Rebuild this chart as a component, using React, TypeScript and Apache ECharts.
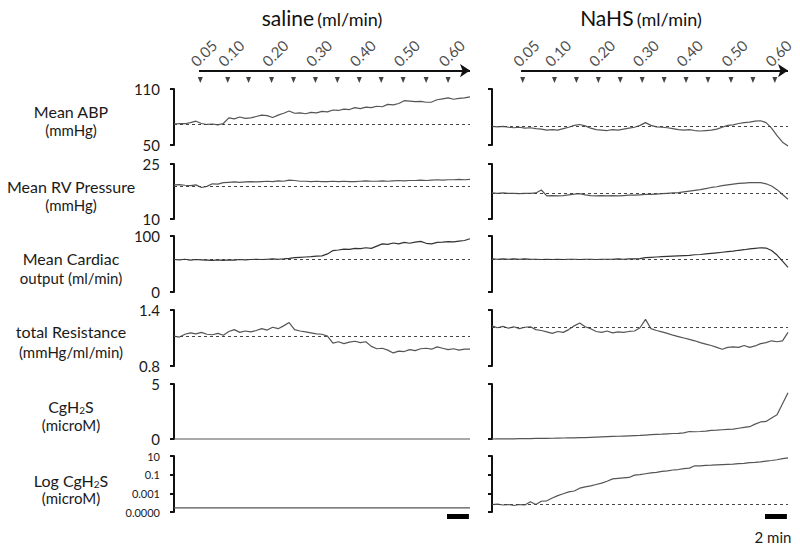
import React, { useEffect, useRef } from "react";
import * as echarts from "echarts";

const FONT = "Lato, 'Noto Sans', sans-serif";

// ---- time base (minutes) ----
const STEP_MIN = 0.5;
const SPAN_MIN = 27;

// ---- titles & dose markers ----
const PANEL_TITLES = ["saline", "NaHS"];
const TITLE_UNIT = "(ml/min)";
const DOSES = ["0.05", "0.10", "0.15", "0.20", "0.25", "0.30", "0.35", "0.40", "0.45", "0.50", "0.55", "0.60"];
const LABELED_DOSES = ["0.05", "0.10", "0.20", "0.30", "0.40", "0.50", "0.60"];
const SALINE_DOSE_TIMES = [2.4, 4.9, 6.8, 8.9, 10.9, 12.9, 14.9, 16.9, 18.9, 20.9, 23.0, 25.0];
const NAHS_DOSE_TIMES = [2.8, 5.7, 7.7, 9.7, 11.7, 13.7, 15.7, 17.7, 19.7, 21.8, 23.8, 25.8];
const ARROW_START_MIN = [2.28, 2.65];
const SCALE_BAR_MIN = 2;
const SCALE_BAR_START = 24.9;
const SCALE_LABEL = "2 min";

// ---- rows ----
const ROW_TITLES = ["Mean ABP", "Mean RV Pressure", "Mean Cardiac", "total Resistance", "{m|CgH}{s|2}{m|S}", "{m|Log CgH}{s|2}{m|S}"];
const ROW_UNITS = ["(mmHg)", "(mmHg)", "output (ml/min)", "(mmHg/ml/min)", "(microM)", "(microM)"];
const ROW_MIN = [50, 10, 0, 0.8, 0, -5];
const ROW_MAX = [110, 25, 100, 1.4, 5, 1];
const LOG_TICKS = [-5, -3, -1, 1];
const LOG_TICK_LABELS = ["0.0000", "0.001", "0.1", "10"];
const SALINE_BASELINE = [72.5, 18.8, 58.3, 1.121, null, null];
const NAHS_BASELINE = [70.4, 17.0, 58.3, 1.221, null, -4.17];

// ---- traces (one value every 0.5 min) ----
const SALINE_ABP = [
  72.5, 73, 72.8, 74, 75.5, 73, 72, 72.5, 71.5, 73,
  79, 78, 80, 78.5, 79, 80.5, 82, 81.5, 79.5, 82,
  84, 86.5, 84, 84.5, 83.5, 85, 84.5, 86, 85.5, 87.5,
  87, 88.5, 88, 90, 89, 90.5, 90, 91.5, 91, 93.5,
  93, 94.5, 97.5, 97, 96.5, 96.8, 95.8, 96, 98.5, 99.5,
  100.5, 99, 100, 100.5, 101.5,
];
const NAHS_ABP = [
  70, 69.5, 70, 69, 68.5, 69, 68, 68.5, 67.5, 67,
  66, 66.5, 66, 67.5, 69, 71, 72, 70.5, 68, 66.5,
  66, 65.5, 66.5, 66, 67, 68, 69, 71, 74, 71,
  69.5, 69, 68.5, 67.5, 66.5, 66, 66.5, 65.5, 65, 65.5,
  66, 67, 69, 71, 71.5, 73, 74, 74.5, 75.5, 76,
  74, 68, 60, 53, 49,
];
const SALINE_RV = [
  19.3, 19.4, 19.2, 19.1, 19.3, 18.6, 18.9, 19.6, 19.5, 19.9,
  20.0, 20.1, 20.0, 20.1, 20.2, 20.1, 20.2, 20.3, 20.2, 20.4,
  20.3, 20.6, 20.5, 20.3, 20.3, 20.2, 20.3, 20.2, 20.2, 20.3,
  20.2, 20.3, 20.2, 20.2, 20.3, 20.4, 20.3, 20.3, 20.4, 20.3,
  20.4, 20.5, 20.4, 20.5, 20.5, 20.6, 20.5, 20.6, 20.7, 20.6,
  20.7, 20.7, 20.8, 20.7, 20.8,
];
const NAHS_RV = [
  17.1, 17.0, 17.1, 17.0, 17.0, 16.9, 17.0, 17.0, 17.1, 17.9,
  16.3, 16.4, 16.3, 16.4, 16.6, 16.8, 16.9, 16.6, 16.4, 16.3,
  16.4, 16.3, 16.4, 16.3, 16.4, 16.5, 16.5, 16.6, 16.7, 16.7,
  16.8, 16.9, 17.0, 17.1, 17.2, 17.4, 17.6, 17.8, 18.0, 18.3,
  18.6, 18.8, 19.1, 19.3, 19.5, 19.7, 19.8, 19.9, 19.9, 19.9,
  19.6, 19.0, 18.0, 16.7, 15.4,
];
const SALINE_CO = [
  58, 57.5, 58.5, 57, 58, 57.5, 57, 56.5, 57.5, 56.5,
  57.5, 57, 58, 57.5, 58, 58.5, 58, 58.5, 59, 58.5,
  59, 60, 61.5, 62, 62.5, 63, 64, 64.5, 68, 74,
  75, 76.5, 76, 78, 77.5, 79, 78, 82, 86, 85,
  87.5, 86, 88.5, 87, 89, 90.5, 87, 86, 88.5, 89,
  90, 89.5, 91, 92, 95,
];
const NAHS_CO = [
  59, 58.5, 59, 58.5, 59, 58.5, 59, 58.5, 58.5, 58,
  58.5, 58, 58.5, 58, 58.5, 58.5, 58, 58.5, 58.5, 58,
  58.5, 58.5, 58.5, 59, 58.5, 59, 59, 59.5, 61.5, 62,
  62.5, 63, 63.5, 64, 64.5, 65, 65.5, 66.5, 67, 68,
  69, 70, 71, 72, 73, 74.5, 75.5, 77, 78, 79,
  78.5, 74, 66, 55, 44,
];
const SALINE_RES = [
  1.12, 1.11, 1.14, 1.155, 1.145, 1.16, 1.14, 1.135, 1.15, 1.13,
  1.17, 1.19, 1.16, 1.175, 1.165, 1.18, 1.2, 1.185, 1.215, 1.2,
  1.23, 1.265, 1.19, 1.175, 1.165, 1.155, 1.145, 1.14, 1.12, 1.045,
  1.06, 1.04, 1.055, 1.065, 1.05, 1.06, 1.01, 0.985, 0.99, 0.97,
  0.94, 0.96, 0.955, 0.975, 0.965, 0.985, 0.99, 0.98, 1.005, 0.99,
  0.975, 0.985, 0.97, 0.98, 0.98,
];
const NAHS_RES = [
  1.23, 1.21, 1.225, 1.205, 1.22, 1.2, 1.215, 1.22, 1.19, 1.18,
  1.165, 1.15, 1.17, 1.16, 1.19, 1.23, 1.26, 1.22, 1.2, 1.17,
  1.16, 1.175, 1.155, 1.165, 1.16, 1.17, 1.175, 1.21, 1.3, 1.2,
  1.18, 1.165, 1.15, 1.13, 1.115, 1.1, 1.085, 1.07, 1.05, 1.035,
  1.02, 1.0, 0.98, 1.0, 1.005, 1.0, 1.02, 1.0, 1.015, 1.04,
  1.05, 1.07, 1.06, 1.07, 1.16,
];
const SALINE_CGH2S = [
  0, 0, 0, 0, 0, 0, 0, 0, 0, 0,
  0, 0, 0, 0, 0, 0, 0, 0, 0, 0,
  0, 0, 0, 0, 0, 0, 0, 0, 0, 0,
  0, 0, 0, 0, 0, 0, 0, 0, 0, 0,
  0, 0, 0, 0, 0, 0, 0, 0, 0, 0,
  0, 0, 0, 0, 0,
];
const NAHS_CGH2S = [
  0.0, 0.01, 0.01, 0.02, 0.02, 0.03, 0.03, 0.04, 0.05, 0.05,
  0.06, 0.07, 0.08, 0.09, 0.1, 0.11, 0.12, 0.13, 0.15, 0.17,
  0.19, 0.21, 0.23, 0.25, 0.27, 0.29, 0.31, 0.33, 0.36, 0.39,
  0.42, 0.44, 0.47, 0.5, 0.52, 0.56, 0.68, 0.66, 0.68, 0.72,
  0.78, 0.8, 0.84, 0.88, 0.9, 0.98, 1.05, 1.12, 1.35, 1.55,
  1.6, 1.9, 2.2, 3.2, 4.2,
];
const SALINE_LOG = [
  -4.55, -4.55, -4.55, -4.55, -4.55, -4.55, -4.55, -4.55, -4.55, -4.55,
  -4.55, -4.55, -4.55, -4.55, -4.55, -4.55, -4.55, -4.55, -4.55, -4.55,
  -4.55, -4.55, -4.55, -4.55, -4.55, -4.55, -4.55, -4.55, -4.55, -4.55,
  -4.55, -4.55, -4.55, -4.55, -4.55, -4.55, -4.55, -4.55, -4.55, -4.55,
  -4.55, -4.55, -4.55, -4.55, -4.55, -4.55, -4.55, -4.55, -4.55, -4.55,
  -4.55, -4.55, -4.55, -4.55, -4.55,
];
const NAHS_LOG = [
  -4.2, -4.15, -4.25, -4.2, -4.3, -4.2, -4.25, -3.9, -4.2, -3.85,
  -3.8, -3.5, -3.25, -3.05, -2.85, -2.75, -2.45, -2.3, -2.2, -2.05,
  -1.9, -1.7, -1.45, -1.4, -1.35, -1.3, -1.05, -1.0, -0.9, -0.8,
  -0.75, -0.65, -0.6, -0.5, -0.45, -0.35, -0.3, -0.05, -0.05, 0.0,
  0.02, 0.05, 0.08, 0.1, 0.12, 0.18, 0.22, 0.28, 0.32, 0.38,
  0.45, 0.52, 0.6, 0.72, 0.8,
];

const SALINE_TRACES = [SALINE_ABP, SALINE_RV, SALINE_CO, SALINE_RES, SALINE_CGH2S, SALINE_LOG];
const NAHS_TRACES = [NAHS_ABP, NAHS_RV, NAHS_CO, NAHS_RES, NAHS_CGH2S, NAHS_LOG];

// ---- layout (pixels) ----
const PANEL_LEFT = [174, 492];
const PANEL_WIDTH = 296;
const ROW_TOP = [89, 164, 236, 310, 384, 456];
const ROW_HEIGHT = [56, 55, 56, 56, 55, 56];
const AXIS_OFFSET = [8, 4];
const TITLE_X = [322, 641];
const LABEL_X = 71;
const LABEL_Y = [[110, 130], [185, 205], [257, 278], [330, 352], [405, 425], [479, 498]];
const TEXT_COLOR = "#1a1a1a";

export default function App() {
  const ref = useRef<HTMLDivElement>(null);

  useEffect(() => {
    if (!ref.current) return;
    const chart = echarts.init(ref.current, undefined, { renderer: "svg" });

    const grids: any[] = [];
    const xAxes: any[] = [];
    const yAxes: any[] = [];
    const series: any[] = [];
    const graphics: any[] = [];

    const panels = [
      { traces: SALINE_TRACES, base: SALINE_BASELINE, doses: SALINE_DOSE_TIMES },
      { traces: NAHS_TRACES, base: NAHS_BASELINE, doses: NAHS_DOSE_TIMES },
    ];

    panels.forEach((panel, p) => {
      // data rows
      for (let r = 0; r < 6; r++) {
        const g = grids.length;
        grids.push({ left: PANEL_LEFT[p], width: PANEL_WIDTH, top: ROW_TOP[r], height: ROW_HEIGHT[r] });
        xAxes.push({ gridIndex: g, type: "value", min: 0, max: SPAN_MIN, show: false });
        const ticks = r === 5 ? LOG_TICKS : [ROW_MIN[r], ROW_MAX[r]];
        yAxes.push({
          gridIndex: g,
          type: "value",
          min: ROW_MIN[r],
          max: ROW_MAX[r],
          offset: AXIS_OFFSET[p],
          splitLine: { show: false },
          axisLine: { show: true, lineStyle: { color: "#111", width: 2 } },
          axisTick: { show: true, length: 4, lineStyle: { color: "#111", width: 2 }, customValues: ticks },
          axisLabel: {
            show: p === 0,
            customValues: ticks,
            margin: 6,
            fontFamily: FONT,
            fontSize: r === 5 ? 11 : 15,
            color: TEXT_COLOR,
            formatter: (v: number) => (r === 5 ? LOG_TICK_LABELS[LOG_TICKS.indexOf(v)] ?? "" : String(v)),
          },
        });
        const trace = panel.traces[r];
        const baseline = panel.base[r];
        series.push({
          type: "line",
          xAxisIndex: g,
          yAxisIndex: g,
          data: trace.map((v, i) => [i * STEP_MIN, v]),
          symbol: "none",
          clip: false,
          lineStyle: { color: r === 2 ? "#333" : "#555", width: 1.2 },
          markLine:
            baseline == null
              ? undefined
              : {
                  silent: true,
                  symbol: "none",
                  label: { show: false },
                  lineStyle: { type: [3, 3], color: "#444", width: 1 },
                  data: [{ yAxis: baseline }],
                },
        });
      }

      // dose marker strip
      const tg = grids.length;
      grids.push({ left: PANEL_LEFT[p], width: PANEL_WIDTH, top: 40, height: 45 });
      xAxes.push({ gridIndex: tg, type: "value", min: 0, max: SPAN_MIN, show: false });
      yAxes.push({ gridIndex: tg, type: "value", min: 0, max: 1, show: false });
      series.push({
        type: "scatter",
        xAxisIndex: tg,
        yAxisIndex: tg,
        data: panel.doses.map((t) => [t, 0.11]),
        symbol: "triangle",
        symbolRotate: 180,
        symbolSize: [5, 6],
        itemStyle: { color: "#111" },
        markLine: {
          silent: true,
          symbol: ["none", "arrow"],
          symbolSize: 10,
          label: { show: false },
          lineStyle: { type: "solid", color: "#111", width: 2 },
          data: [[{ coord: [ARROW_START_MIN[p], 0.32] }, { coord: [SPAN_MIN, 0.32] }]],
        },
      });
      series.push({
        type: "scatter",
        xAxisIndex: tg,
        yAxisIndex: tg,
        symbolSize: 1,
        itemStyle: { color: "rgba(0,0,0,0)" },
        data: panel.doses
          .map((t, i) => ({ name: DOSES[i], value: [t + 0.3, 0.71] }))
          .filter((d) => LABELED_DOSES.includes(d.name)),
        label: {
          show: true,
          position: "inside",
          formatter: "{b}",
          rotate: 45,
          fontFamily: FONT,
          fontSize: 15,
          color: TEXT_COLOR,
        },
      });

      // scale bar
      const sg = grids.length;
      grids.push({ left: PANEL_LEFT[p], width: PANEL_WIDTH, top: 512, height: 9 });
      xAxes.push({ gridIndex: sg, type: "value", min: 0, max: SPAN_MIN, show: false });
      yAxes.push({ gridIndex: sg, type: "value", min: 0, max: 1, show: false });
      series.push({
        type: "line",
        xAxisIndex: sg,
        yAxisIndex: sg,
        symbol: "none",
        clip: false,
        lineStyle: { color: "#000", width: 5, cap: "butt" },
        data: [[SCALE_BAR_START, 0.5], [SCALE_BAR_START + SCALE_BAR_MIN, 0.5]],
      });

      graphics.push({
        type: "text",
        x: TITLE_X[p],
        y: 15,
        style: {
          text: `{t|${PANEL_TITLES[p]}} {u|${TITLE_UNIT}}`,
          align: "center",
          verticalAlign: "middle",
          rich: {
            t: { fontFamily: FONT, fontSize: 21, fill: "#111", lineHeight: 25, verticalAlign: "bottom" },
            u: { fontFamily: FONT, fontSize: 18, fill: "#111", lineHeight: 23, verticalAlign: "bottom" },
          },
        },
      });
    });

    ROW_TITLES.forEach((title, r) => {
      graphics.push({
        type: "text",
        x: LABEL_X,
        y: LABEL_Y[r][0],
        style: {
          text: title.includes("{") ? title : `{m|${title}}`,
          align: "center",
          verticalAlign: "middle",
          rich: {
            m: { fontFamily: FONT, fontSize: 16, fill: TEXT_COLOR, lineHeight: 19, verticalAlign: "bottom" },
            s: { fontFamily: FONT, fontSize: 10, fill: TEXT_COLOR, lineHeight: 9, verticalAlign: "bottom" },
          },
        },
      });
      graphics.push({
        type: "text",
        x: LABEL_X,
        y: LABEL_Y[r][1],
        style: {
          text: ROW_UNITS[r],
          align: "center",
          verticalAlign: "middle",
          fontFamily: FONT,
          fontSize: 15,
          fill: TEXT_COLOR,
        },
      });
    });

    graphics.push({
      type: "text",
      x: 773,
      y: 537,
      style: { text: SCALE_LABEL, align: "center", verticalAlign: "middle", fontFamily: FONT, fontSize: 15, fill: TEXT_COLOR },
    });

    chart.setOption({
      animation: false,
      backgroundColor: "#fff",
      grid: grids,
      xAxis: xAxes,
      yAxis: yAxes,
      series,
      graphic: graphics,
    });

    return () => chart.dispose();
  }, []);

  return <div ref={ref} style={{ position: "fixed", left: 0, top: 0, width: 800, height: 549 }} />;
}
